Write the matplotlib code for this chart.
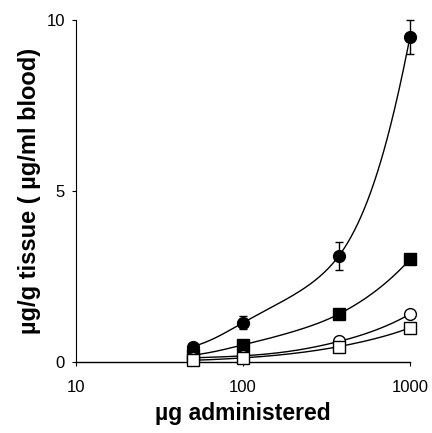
import numpy as np
import matplotlib

matplotlib.use('Agg')
import matplotlib.pyplot as plt

# dose administered (ug) and tissue levels
dose = [50, 100, 375, 1000]
filled_circle = [0.45, 1.15, 3.1, 9.5]
filled_circle_err = [0.1, 0.2, 0.4, 0.5]
filled_square = [0.2, 0.5, 1.4, 3.0]
open_circle = [0.12, 0.18, 0.6, 1.4]
open_square = [0.05, 0.12, 0.45, 1.0]

xticks = [10, 100, 1000]
yticks = [0, 5, 10]


def pchip(x, y, xs):
    # monotone cubic interpolation to draw a smooth curve through the points
    x = np.asarray(x, float)
    y = np.asarray(y, float)
    h = np.diff(x)
    d = np.diff(y) / h
    m = np.zeros_like(y)
    for k in range(1, len(x) - 1):
        if d[k - 1] * d[k] > 0:
            w1 = 2 * h[k] + h[k - 1]
            w2 = h[k] + 2 * h[k - 1]
            m[k] = (w1 + w2) / (w1 / d[k - 1] + w2 / d[k])
    m[0] = d[0]
    m[-1] = d[-1]
    out = np.empty_like(xs)
    for i, xv in enumerate(xs):
        k = min(np.searchsorted(x, xv) - 1, len(x) - 2)
        k = max(k, 0)
        t = (xv - x[k]) / h[k]
        h00 = 2 * t**3 - 3 * t**2 + 1
        h10 = t**3 - 2 * t**2 + t
        h01 = -2 * t**3 + 3 * t**2
        h11 = t**3 - t**2
        out[i] = h00 * y[k] + h10 * h[k] * m[k] + h01 * y[k + 1] + h11 * h[k] * m[k + 1]
    return out


plt.rcParams['font.family'] = ['Liberation Sans', 'DejaVu Sans']

fig = plt.figure(figsize=(4.32, 4.33), dpi=100)
ax = fig.add_axes([0.176, 0.164, 0.773, 0.790])

lx = np.log10(dose)
xs = np.linspace(lx[0], lx[-1], 200)

series = [
    (filled_circle, 'o', 'black'),
    (filled_square, 's', 'black'),
    (open_circle, 'o', 'white'),
    (open_square, 's', 'white'),
]
for vals, mk, face in series:
    # smooth in log(y) so the curves bend like the original fitted lines
    curve = np.exp(pchip(lx, np.log(vals), xs))
    ax.plot(10 ** xs, curve, color='black', lw=1.0, zorder=2, clip_on=False)
    ax.plot(dose, vals, linestyle='none', marker=mk, markersize=8.5,
            markerfacecolor=face, markeredgecolor='black', markeredgewidth=1.0,
            zorder=3, clip_on=False)

eb = ax.errorbar(dose, filled_circle, yerr=filled_circle_err, fmt='none', ecolor='black',
                 elinewidth=1.0, capsize=3, capthick=1.0, zorder=2)
for art in eb.lines[1] + eb.lines[2]:
    art.set_clip_on(False)

ax.set_xscale('log')
ax.set_xlim(10, 1000)
ax.set_ylim(0, 10)
ax.set_xticks(xticks)
ax.set_xticklabels([str(t) for t in xticks])
ax.set_yticks(yticks)
ax.set_yticklabels([str(t) for t in yticks])
ax.minorticks_off()
ax.tick_params(axis='both', direction='out', length=3, width=0.8, labelsize=12)
ax.tick_params(axis='x', pad=10)
ax.tick_params(axis='y', pad=5)

for side in ['top', 'right']:
    ax.spines[side].set_visible(False)
ax.spines['left'].set_linewidth(0.8)
ax.spines['bottom'].set_linewidth(1.0)

ax.set_xlabel('\u00b5g administered', fontsize=16.5, fontweight='bold', labelpad=5)
ax.set_ylabel('\u00b5g/g tissue ( \u00b5g/ml blood)', fontsize=17, fontweight='bold', labelpad=4)

plt.savefig('out.png', dpi=100)
plt.close()
